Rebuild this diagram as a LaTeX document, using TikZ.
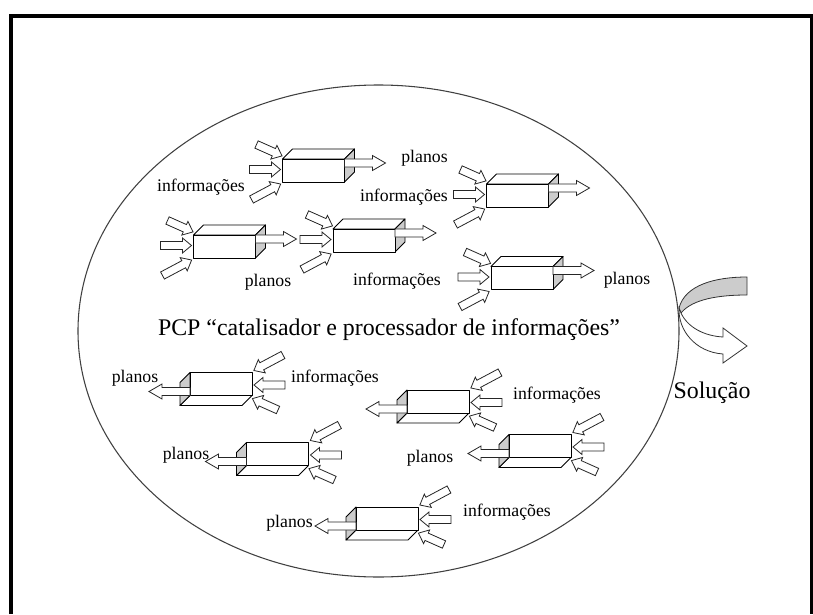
\documentclass[tikz,border=0pt]{standalone}
\usepackage{fontspec}
\setmainfont{Liberation Serif}

% block arrow: tail position, angle, total length, head length
\newcommand\blockarrow[4]{%
  \draw[blk, shift={#1}, rotate=#2]
    (0,-4) -- ({#3-#4},-4) -- ({#3-#4},-7.5) -- (#3,0) -- ({#3-#4},7.5)
    -- ({#3-#4},4) -- (0,4) -- cycle;}

% processing unit: name, centre x, centre y, rotation
\newcommand\unitbox[4]{%
  \begin{scope}[shift={(#2,#3)}, rotate=#4]
    \draw[face] (-31,-11.5) -- (-21,-21.5) -- (41,-21.5) -- (31,-11.5) -- cycle;
    \draw[sideface] (31,-11.5) -- (41,-21.5) -- (41,1.5) -- (31,11.5) -- cycle;
    \node[frontface] (#1) at (0,0) {};
    \blockarrow{(31,-7.5)}{0}{41}{13}
    \blockarrow{(-57,-26)}{-24}{28}{9}
    \blockarrow{(-64,-1)}{0}{31}{9}
    \blockarrow{(-62,29)}{28}{33}{9}
  \end{scope}}

\begin{document}
\begin{tikzpicture}[x=0.75pt,y=-0.75pt,
  frame/.style={line width=2.4pt},
  face/.style={draw=black, line width=0.7pt, fill=white, line join=round},
  sideface/.style={face, fill=gray!40},
  frontface/.style={face, rectangle, minimum width=46.5pt, minimum height=17.25pt, inner sep=0pt},
  blk/.style={draw=black!85, line width=0.6pt, fill=white, line join=miter},
  lbl/.style={font=\fontsize{13.3}{15}\selectfont, inner sep=0pt},
  big/.style={font=\fontsize{17.9}{20}\selectfont, inner sep=0pt}]

\useasboundingbox (0,0) rectangle (813,614);

% page frame (open at the bottom)
\draw[frame] (11,614) -- (11,16) -- (812,16) -- (812,614);

% the PCP ellipse
\draw[black!75, line width=0.8pt] (378.5,331) ellipse [x radius=300.5, y radius=246];

% units pointing right
\unitbox{uA}{313.5}{170.5}{0}
\unitbox{uB}{224.5}{246.5}{0}
\unitbox{uC}{364}{240.5}{0}
\unitbox{uD}{517.5}{195.5}{0}
\unitbox{uE}{522}{278}{0}

% units pointing left
\unitbox{uF}{221}{384}{180}
\unitbox{uG}{277.5}{454}{180}
\unitbox{uH}{438}{401.5}{180}
\unitbox{uI}{540}{446}{180}
\unitbox{uJ}{387}{518.5}{180}

% labels
\node[lbl] (tA1) at (201,187) {informações};
\node[lbl] (tA2) at (424.5,158) {planos};
\node[lbl] (tB)  at (268,282) {planos};
\node[lbl] (tC)  at (397,281) {informações};
\node[lbl] (tD)  at (404,197) {informações};
\node[lbl] (tE)  at (627,280) {planos};
\node[lbl] (tF1) at (135,378) {planos};
\node[lbl] (tF2) at (335,378) {informações};
\node[lbl] (tG)  at (186,455) {planos};
\node[lbl] (tH)  at (557,395) {informações};
\node[lbl] (tI)  at (430,458) {planos};
\node[lbl] (tJ1) at (507,512) {informações};
\node[lbl] (tJ2) at (289.5,523) {planos};

\node[big] (pcp) at (389,330) {PCP “catalisador e processador de informações”};

% outgoing solution arrow
\draw[black!80, line width=0.6pt, fill=gray!40]
  (747,277) .. controls (715,277) and (685,285) .. (679,308)
  -- (681,313) .. controls (690,302) and (710,295) .. (747,295) -- cycle;
\draw[black!80, line width=0.6pt, fill=white]
  (679,308) .. controls (678,330) and (695,352) .. (723,354)
  -- (723,363) -- (747,346) -- (723,328) -- (723,337)
  .. controls (705,336) and (688,328) .. (681,313) -- cycle;
\node[big] (sol) at (712,393) {Solução};

\end{tikzpicture}
\end{document}
